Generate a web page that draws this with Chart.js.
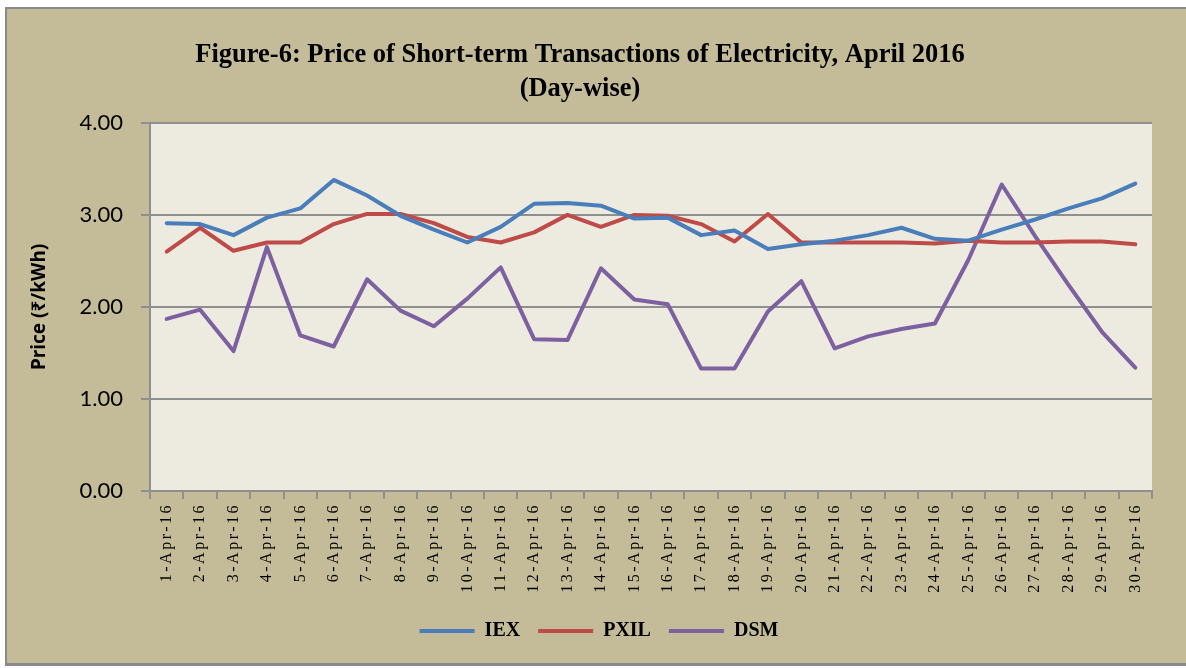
<!DOCTYPE html>
<html>
<head>
<meta charset="utf-8">
<script src="https://cdn.jsdelivr.net/npm/chart.js@4/dist/chart.umd.min.js"></script>
<style>
  html, body { margin: 0; padding: 0; background: #ffffff; }
  #wrap { width: 1186px; height: 668px; position: relative; }
</style>
</head>
<body>
<div id="wrap"><canvas id="myChart" width="1186" height="668"></canvas></div>
<script>
// data
const days = ['1-Apr-16','2-Apr-16','3-Apr-16','4-Apr-16','5-Apr-16','6-Apr-16','7-Apr-16','8-Apr-16','9-Apr-16','10-Apr-16',
  '11-Apr-16','12-Apr-16','13-Apr-16','14-Apr-16','15-Apr-16','16-Apr-16','17-Apr-16','18-Apr-16','19-Apr-16','20-Apr-16',
  '21-Apr-16','22-Apr-16','23-Apr-16','24-Apr-16','25-Apr-16','26-Apr-16','27-Apr-16','28-Apr-16','29-Apr-16','30-Apr-16'];
const iex  = [2.91, 2.90, 2.78, 2.97, 3.07, 3.38, 3.21, 2.99, 2.84, 2.70, 2.87, 3.12, 3.13, 3.10, 2.96,
              2.97, 2.78, 2.83, 2.63, 2.68, 2.72, 2.78, 2.86, 2.74, 2.72, 2.84, 2.95, 3.07, 3.18, 3.34];
const pxil = [2.60, 2.86, 2.61, 2.70, 2.70, 2.90, 3.01, 3.01, 2.91, 2.76, 2.70, 2.81, 3.00, 2.87, 3.00,
              2.99, 2.90, 2.71, 3.01, 2.70, 2.70, 2.70, 2.70, 2.69, 2.72, 2.70, 2.70, 2.71, 2.71, 2.68];
const dsm  = [1.87, 1.97, 1.52, 2.65, 1.69, 1.57, 2.30, 1.96, 1.79, 2.09, 2.43, 1.65, 1.64, 2.42, 2.08,
              2.03, 1.33, 1.33, 1.95, 2.28, 1.55, 1.68, 1.76, 1.82, 2.51, 3.33, 2.77, 2.24, 1.73, 1.34];
const yTicks = [0, 1, 2, 3, 4];

const serif = "'Liberation Serif', 'Times New Roman', serif";
const gridGray = '#8f8f8f';

// tan frame + plot background, and wider letter spacing for the date labels
const frame = {
  id: 'frame',
  afterLayout(chart) {
    // legend sits a bit right of the page centre in the original
    chart.legend.left += 19;
    chart.legend.right += 19;
  },
  beforeDraw(chart) {
    const c = chart.ctx;
    const a = chart.chartArea;
    c.save();
    c.fillStyle = '#ffffff';
    c.fillRect(0, 0, chart.width, chart.height);
    c.fillStyle = '#8a8a8a';
    c.fillRect(5, 7, chart.width, 659);
    c.fillStyle = '#c4bc98';
    c.fillRect(7, 9, chart.width, 654);
    c.fillStyle = '#edeae0';
    c.fillRect(a.left, a.top, a.right - a.left, a.bottom - a.top);
    c.restore();

    const sx = chart.scales.x;
    if (!sx._spaced) {
      const orig = sx.drawLabels;
      sx.drawLabels = function (area) {
        c.save();
        c.letterSpacing = '2.5px';
        orig.call(this, area);
        c.restore();
      };
      sx._spaced = true;
    }
  }
};

function line(label, data, color) {
  return {
    label: label,
    data: data,
    borderColor: color,
    backgroundColor: color,
    borderWidth: 4,
    pointRadius: 0,
    tension: 0,
    borderCapStyle: 'round',
    borderJoinStyle: 'round'
  };
}

var ctx = document.getElementById('myChart').getContext('2d');
var chart = new Chart(ctx, {
  type: 'line',
  data: {
    labels: days,
    datasets: [
      line('IEX', iex, '#4a7ebb'),
      line('PXIL', pxil, '#be4b48'),
      line('DSM', dsm, '#7d60a0')
    ]
  },
  plugins: [frame],
  options: {
    responsive: false,
    animation: false,
    layout: { padding: { left: 8, right: 34, top: 8, bottom: 17 } },
    plugins: {
      tooltip: { enabled: false },
      title: {
        display: true,
        text: ['Figure-6: Price of Short-term Transactions of Electricity, April 2016', '(Day-wise)'],
        color: '#000',
        font: { family: serif, size: 26.5, weight: 'bold', lineHeight: 1.28 },
        padding: { top: 30, bottom: 17 }
      },
      legend: {
        position: 'bottom',
        labels: {
          usePointStyle: true,
          pointStyle: 'line',
          pointStyleWidth: 55,
          boxWidth: 55,
          padding: 18,
          color: '#000',
          font: { family: serif, size: 20, weight: 'bold' }
        }
      }
    },
    scales: {
      x: {
        offset: true,
        grid: { offset: true, drawOnChartArea: false, drawTicks: true, tickLength: 8, color: gridGray, lineWidth: 2 },
        border: { color: gridGray, width: 2 },
        ticks: {
          autoSkip: false,
          maxRotation: 90,
          minRotation: 90,
          padding: 4,
          color: '#000',
          font: { family: serif, size: 16 }
        },
        afterFit(s) { s.height = 112; }
      },
      y: {
        min: 0,
        max: 4,
        afterBuildTicks(s) { s.ticks = yTicks.map(v => ({ value: v })); },
        grid: { color: gridGray, lineWidth: 2, tickLength: 9 },
        border: { color: gridGray, width: 2 },
        ticks: {
          padding: 18,
          color: '#000',
          font: { family: "Lato, 'Noto Sans', sans-serif", size: 22 },
          callback: v => v.toFixed(2)
        },
        title: {
          display: true,
          text: 'Price (₹/kWh)',
          color: '#000',
          font: { family: "'Noto Sans', Lato, sans-serif", size: 19, weight: 'bold' },
          padding: { top: 20, bottom: 0 }
        },
        afterFit(s) { s.width = 142; }
      }
    }
  }
});
</script>
</body>
</html>
